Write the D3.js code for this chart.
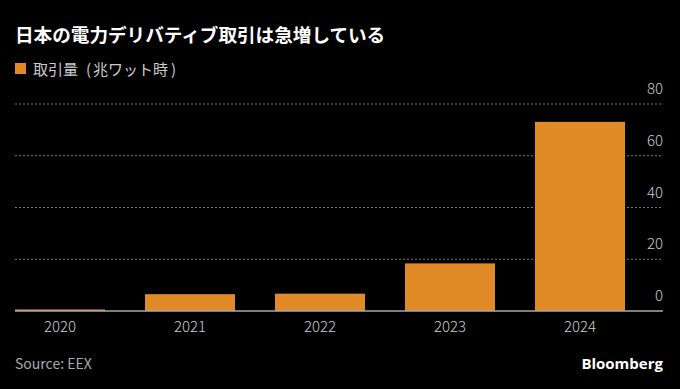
<!DOCTYPE html>
<html>
<head>
<meta charset="utf-8">
<script src="https://cdn.jsdelivr.net/npm/d3@7"></script>
<style>
  html, body { margin: 0; padding: 0; background: #000; }
  svg { display: block; font-family: "Noto Sans CJK JP", "Noto Sans", sans-serif; }
</style>
</head>
<body>
<svg id="chart" width="680" height="389"></svg>
<script>
// data
const years = ["2020", "2021", "2022", "2023", "2024"];
const volume = [0.6, 6.5, 6.7, 18.4, 73.1];
const yTicks = [0, 20, 40, 60, 80];

const width = 680, height = 389;
const svg = d3.select("#chart");
svg.append("rect").attr("width", width).attr("height", height).attr("fill", "#000");

// title + legend
svg.append("text")
    .attr("x", 15).attr("y", 42)
    .attr("fill", "#fff").style("font-size", "18.6px").style("font-weight", "700")
    .text("日本の電力デリバティブ取引は急増している");

svg.append("rect")
    .attr("x", 15).attr("y", 63).attr("width", 11).attr("height", 11)
    .attr("fill", "#e08b27");
const leg = svg.append("text")
    .attr("x", 33).attr("y", 75)
    .attr("fill", "#ccc").style("font-size", "15px");
leg.append("tspan").text("取引量");
leg.append("tspan").attr("dx", 8).text("(");
leg.append("tspan").attr("dx", 2).text("兆ワット時");
leg.append("tspan").attr("dx", 3).text(")");

// scales
const left = 15, right = 663;
const x = d3.scaleBand()
    .domain(years)
    .range([15, 625])
    .paddingInner(40 / 130)
    .paddingOuter(0);

const y = d3.scaleLinear()
    .domain([0, 80])
    .range([311, 104]);

// grid (dotted) + labels above lines, right aligned
const grid = svg.append("g");
yTicks.forEach(t => {
    if (t !== 0) {
        grid.append("line")
            .attr("x1", left).attr("x2", right)
            .attr("y1", y(t)).attr("y2", y(t))
            .attr("stroke", "#777").attr("stroke-width", 1)
            .attr("stroke-dasharray", "2,2");
    }
    grid.append("text")
        .attr("x", right).attr("y", y(t) - 10)
        .attr("text-anchor", "end")
        .attr("fill", "#ccc").style("font-size", "15px").style("font-weight", "300")
        .text(t);
});

// bars
svg.append("g").selectAll("rect")
    .data(years)
    .join("rect")
    .attr("x", d => x(d))
    .attr("width", x.bandwidth())
    .attr("y", (d, i) => y(volume[i]))
    .attr("height", (d, i) => y(0) - y(volume[i]))
    .attr("fill", "#e08b27");

// baseline
svg.append("line")
    .attr("x1", left).attr("x2", right)
    .attr("y1", y(0)).attr("y2", y(0))
    .attr("stroke", "#aaa").attr("stroke-width", 1.5);

// x axis labels
const xAxis = d3.axisBottom(x).tickSize(0).tickPadding(0);
const xg = svg.append("g")
    .attr("transform", `translate(0,${y(0)})`)
    .call(xAxis);
xg.select(".domain").remove();
xg.selectAll("text")
    .attr("y", 21)
    .attr("dy", 0)
    .attr("fill", "#ccc")
    .style("font-size", "15px")
    .style("font-weight", "300")
    .style("font-family", "\"Noto Sans CJK JP\", \"Noto Sans\", sans-serif");

// footer
svg.append("text")
    .attr("x", 15).attr("y", 369)
    .attr("fill", "#aaa").style("font-size", "14px")
    .text("Source: EEX");

svg.append("text")
    .attr("x", right).attr("y", 369)
    .attr("text-anchor", "end")
    .attr("fill", "#fff").style("font-size", "15px").style("font-weight", "700")
    .style("font-family", "\"Open Sans\", sans-serif")
    .text("Bloomberg");
</script>
</body>
</html>
